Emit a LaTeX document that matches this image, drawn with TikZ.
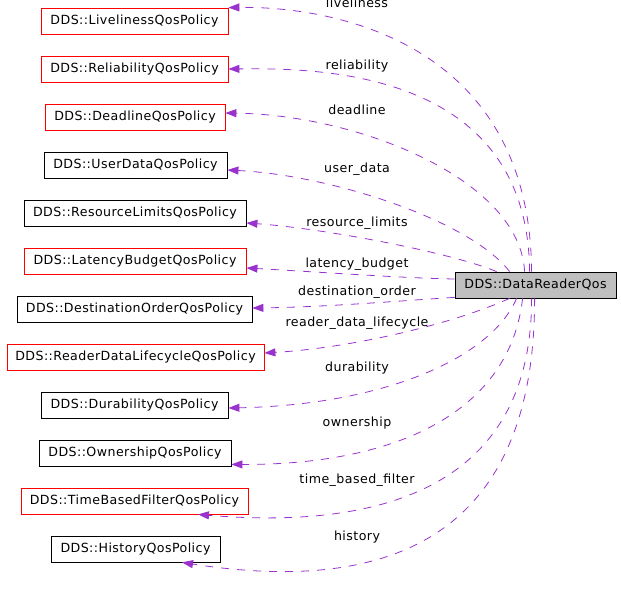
\documentclass[tikz,border=0pt]{standalone}
\usepackage{fontspec}
\setmainfont[LetterSpace=3.5]{DejaVu Sans}
\usetikzlibrary{arrows.meta}
\definecolor{edgec}{RGB}{154,50,205}
\definecolor{boxgray}{RGB}{191,191,191}
\begin{document}
\begin{tikzpicture}[x=1pt,y=-1pt,
  every node/.style={font=\fontsize{12.6}{14}\selectfont},
  cls/.style={draw=black,line width=0.8pt,minimum height=26pt,inner sep=0pt,anchor=center},
  redcls/.style={cls,draw=red},
  lbl/.style={anchor=base,inner sep=0pt},
  use/.style={draw=edgec,line width=0.8pt,dash pattern=on 8pt off 8pt,-{Triangle[length=11pt,width=8pt]}}]
\useasboundingbox (0,0) rectangle (621,595);
\node[redcls,minimum width=187pt] (live) at (134.5,21) {DDS::LivelinessQosPolicy};
\node[redcls,minimum width=187pt] (reli) at (134.5,69) {DDS::ReliabilityQosPolicy};
\node[redcls,minimum width=180pt] (dead) at (135,117) {DDS::DeadlineQosPolicy};
\node[cls,minimum width=183pt] (user) at (135.5,165) {DDS::UserDataQosPolicy};
\node[cls,minimum width=222pt] (res) at (135,213) {DDS::ResourceLimitsQosPolicy};
\node[redcls,minimum width=222pt] (lat) at (135,261) {DDS::LatencyBudgetQosPolicy};
\node[cls,minimum width=235pt] (dest) at (134.5,309.5) {DDS::DestinationOrderQosPolicy};
\node[redcls,minimum width=257pt] (rdl) at (135.5,357) {DDS::ReaderDataLifecycleQosPolicy};
\node[cls,minimum width=187pt] (dur) at (134.5,405) {DDS::DurabilityQosPolicy};
\node[cls,minimum width=192pt] (own) at (135,453) {DDS::OwnershipQosPolicy};
\node[redcls,minimum width=227pt] (tbf) at (134.5,501) {DDS::TimeBasedFilterQosPolicy};
\node[cls,minimum width=169pt] (hist) at (135.5,549) {DDS::HistoryQosPolicy};
\node[cls,fill=boxgray,minimum width=161pt] (q) at (535.5,285) {DDS::DataReaderQos};
% edges
\draw[use] ([xshift=77pt]q.north west) .. controls (530,40) and (330,6) .. (live.north east);
\draw[use] ([xshift=75pt]q.north west) .. controls (528,70) and (320,68) .. (reli.east);
\draw[use] ([xshift=70pt]q.north west) .. controls (520,180) and (360,115) .. ([yshift=4pt]dead.east);
\draw[use] ([xshift=55pt]q.north west) .. controls (470,220) and (330,175) .. ([yshift=-5pt]user.east);
\draw[use] ([xshift=42pt]q.north west) .. controls (450,252) and (320,228) .. ([yshift=-10pt]res.east);
\draw[use] ([yshift=6pt]q.west) .. controls (400,278) and (320,272) .. ([yshift=-7pt]lat.east);
\draw[use] ([yshift=1pt]q.south west) .. controls (410,300) and (330,307) .. ([yshift=1.5pt]dest.east);
\draw[use] ([xshift=55pt]q.south west) .. controls (450,325) and (350,348) .. ([yshift=4pt]rdl.east);
\draw[use] ([xshift=62pt]q.south west) .. controls (490,360) and (380,405) .. ([yshift=-3pt]dur.east);
\draw[use] ([xshift=68pt]q.south west) .. controls (510,410) and (400,465) .. ([yshift=2pt]own.south east);
\draw[use] ([xshift=77pt]q.south west) .. controls (532,500) and (360,528) .. ([xshift=63.5pt]tbf.south);
\draw[use] ([xshift=80pt]q.south west) .. controls (535,560) and (360,590) .. ([xshift=46.5pt]hist.south);
% labels
\node[lbl] (l1) at (357,7) {liveliness};
\node[lbl] (l2) at (357,69) {reliability};
\node[lbl] (l3) at (357,114) {deadline};
\node[lbl] (l4) at (357,172) {user\_data};
\node[lbl] (l5) at (357,226) {resource\_limits};
\node[lbl] (l6) at (357,267) {latency\_budget};
\node[lbl] (l7) at (357,295) {destination\_order};
\node[lbl] (l8) at (357,326) {reader\_data\_lifecycle};
\node[lbl] (l9) at (357,371) {durability};
\node[lbl] (l10) at (357,426) {ownership};
\node[lbl] (l11) at (357,483) {time\_based\_filter};
\node[lbl] (l12) at (357,540) {history};
\end{tikzpicture}
\end{document}
